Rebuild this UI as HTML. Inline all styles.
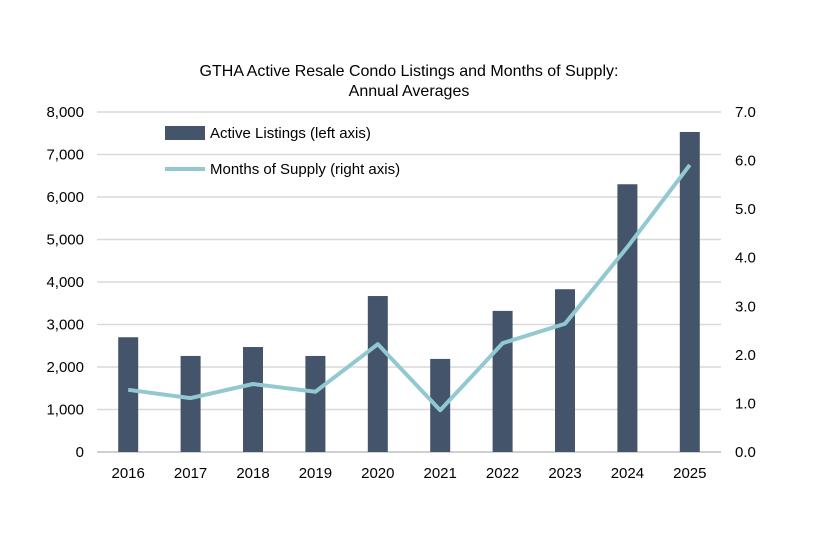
<!DOCTYPE html>
<html><head><meta charset="utf-8"><style>
body{margin:0;background:#fff;}
svg{display:block;font-family:"Liberation Sans",Arial,sans-serif;}
</style></head><body>
<svg id="chart" width="828" height="552">
<text x="409" y="76" text-anchor="middle" font-size="16" fill="#000">GTHA Active Resale Condo Listings and Months of Supply:</text>
<text x="409" y="96" text-anchor="middle" font-size="16" fill="#000">Annual Averages</text>
<g id="grid"></g><g id="bars"></g><g id="line"></g><g id="axes"></g>
<rect x="165" y="126" width="40" height="14" fill="#44546a"/>
<text x="210" y="138" font-size="15" fill="#000">Active Listings (left axis)</text>
<line x1="165" y1="169" x2="205" y2="169" stroke="#92c9d0" stroke-width="4"/>
<text x="210" y="174" font-size="15" fill="#000">Months of Supply (right axis)</text>
</svg>
<script>
const years=["2016","2017","2018","2019","2020","2021","2022","2023","2024","2025"];
const listings=[2700,2260,2470,2260,3670,2190,3320,3830,6300,7530];
const supply=[1.28,1.11,1.40,1.24,2.22,0.86,2.24,2.64,4.22,5.91];
const leftTicks=["0","1,000","2,000","3,000","4,000","5,000","6,000","7,000","8,000"];
const rightTicks=["0.0","1.0","2.0","3.0","4.0","5.0","6.0","7.0"];
const NS="http://www.w3.org/2000/svg";
const x0=97,x1=721,yb=452,yt=112;
const yL=v=>yb-(v/8000)*(yb-yt);
const yR=v=>yb-(v/7)*(yb-yt);
const step=(x1-x0)/years.length;
const xc=i=>x0+step*(i+0.5);
function mk(tag,attrs,parent,txt){const e=document.createElementNS(NS,tag);for(const k in attrs)e.setAttribute(k,attrs[k]);if(txt!==undefined)e.textContent=txt;document.getElementById(parent).appendChild(e);return e;}
leftTicks.forEach((t,i)=>{const v=i*1000;const y=yL(v);
 const g=mk('line',{x1:x0,x2:x1,y1:y,y2:y,stroke:i===0?'#bfbfbf':'#d9d9d9','stroke-width':1.5},'grid');
 
 
 const l=mk('text',{x:84,y:y+5,'text-anchor':'end','font-size':15},'axes',t);
 
 });
rightTicks.forEach((t,i)=>{const y=yR(i);
 const l=mk('text',{x:735,y:y+5,'font-size':15},'axes',t);
 
 });
years.forEach((yr,i)=>{
 const b=mk('rect',{x:xc(i)-10,y:yL(listings[i]),width:20,height:yb-yL(listings[i]),fill:'#44546a'},'bars');
 
 
 const l=mk('text',{x:xc(i),y:478,'text-anchor':'middle','font-size':15},'axes',yr);
 
 });
const pts=supply.map((v,i)=>xc(i)+','+yR(v)).join(' ');
const pl=mk('polyline',{points:pts,fill:'none',stroke:'#92c9d0','stroke-width':4,'stroke-linejoin':'round'},'line');


</script>
</body></html>
